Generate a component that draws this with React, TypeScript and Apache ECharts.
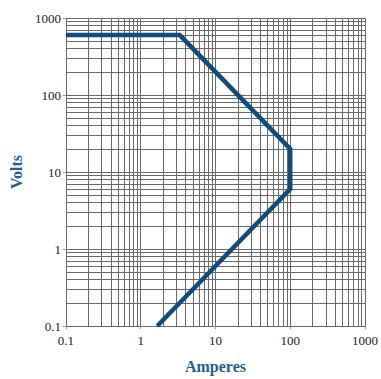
import React, { useEffect, useRef } from "react";
import * as echarts from "echarts";

// Safe operating area curve (Amperes, Volts)
const currentA = [0.1, 3.33, 100, 100, 1.667];
const voltageV = [600, 600, 20, 6, 0.1];

const decadeTicks = ["0.1", "1", "10", "100", "1000"];
const minorMultipliers = [2, 3, 4, 5, 6, 7, 8, 9];
const minorDecades = [0.1, 1, 10, 100];

const xName = "Amperes";
const yName = "Volts";

export default function App() {
  const ref = useRef<HTMLDivElement>(null);
  useEffect(() => {
    if (!ref.current) return;
    const chart = echarts.init(ref.current, undefined, { renderer: "svg" });
    const minorVals: number[] = [];
    minorDecades.forEach((d) =>
      minorMultipliers.forEach((m) => minorVals.push(+(d * m).toPrecision(3)))
    );
    const gridColor = "#6a6a6a";
    const fmt = (v: number) => {
      const s = String(+Number(v).toPrecision(3));
      return decadeTicks.includes(s) ? s : "";
    };
    const serif = "'Liberation Serif', 'DejaVu Serif', serif";
    const axisCommon = {
      type: "log" as const,
      logBase: 10,
      min: 0.1,
      max: 1000,
      axisLine: { show: false },
      axisTick: { show: true, length: 3, lineStyle: { color: "#999" } },
      splitLine: { show: true, lineStyle: { color: gridColor, width: 1 } },
      nameLocation: "middle" as const,
      nameTextStyle: {
        fontFamily: serif,
        fontWeight: "bold" as const,
        fontSize: 16,
        color: "#1f5f96",
      },
    };
    chart.setOption({
      animation: false,
      backgroundColor: "#ffffff",
      grid: { left: 56, right: 13, top: 18, bottom: 47 },
      xAxis: {
        ...axisCommon,
        name: xName,
        nameGap: 32,
        axisLabel: {
          fontFamily: serif,
          fontSize: 13,
          color: "#222",
          margin: 8,
          formatter: fmt,
        },
      },
      yAxis: {
        ...axisCommon,
        name: yName,
        nameGap: 28,
        axisLabel: {
          fontFamily: serif,
          fontSize: 13,
          color: "#222",
          margin: 5,
          padding: [0, 0, 6, 0],
          formatter: fmt,
        },
      },
      series: [
        {
          type: "line",
          data: [[0.1, 0.1]],
          showSymbol: false,
          lineStyle: { opacity: 0 },
          silent: true,
          z: 1,
          markLine: {
            silent: true,
            symbol: ["none", "none"],
            label: { show: false },
            animation: false,
            lineStyle: { color: gridColor, width: 1, type: "solid" },
            emphasis: { disabled: true },
            data: [
              ...minorVals.map((v) => ({ xAxis: v })),
              ...minorVals.map((v) => ({ yAxis: v })),
            ],
          },
        },
        {
          type: "line",
          data: currentA.map((a, i) => [a, voltageV[i]]),
          showSymbol: false,
          z: 5,
          lineStyle: { color: "#0e4d80", width: 4.5, join: "miter" },
        },
      ],
    });
    return () => chart.dispose();
  }, []);
  return (
    <div
      ref={ref}
      style={{ position: "fixed", left: 0, top: 0, width: 381, height: 379 }}
    />
  );
}
